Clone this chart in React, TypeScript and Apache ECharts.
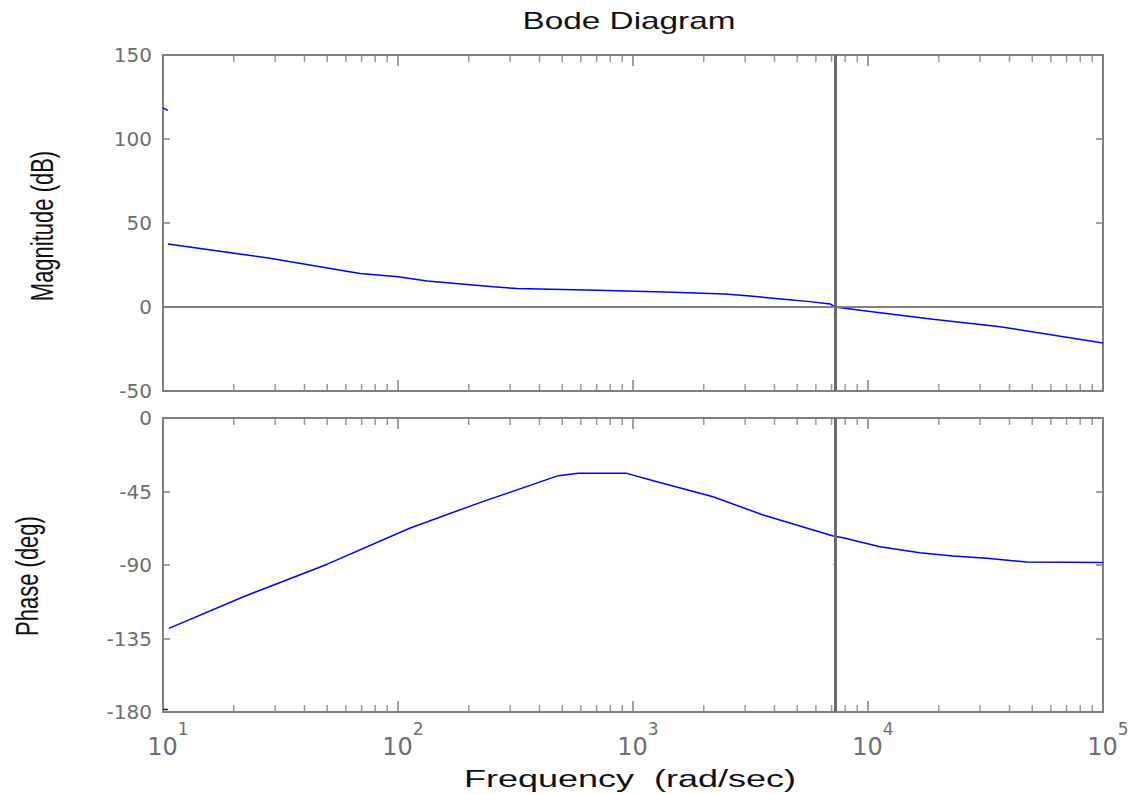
import React, { useEffect, useRef } from "react";
import * as echarts from "echarts";

// Magnitude (dB) vs frequency (rad/sec)
const magFreq = [10.5, 28.5, 68.8, 100, 133, 254, 321, 700, 1370, 2460, 3150, 4500, 5660, 6900, 7240, 10000, 18900, 36500, 100000];
const magDb = [37.5, 29, 20, 18, 15.5, 12, 11, 10, 9, 7.8, 6.5, 4.5, 3.2, 1.8, 0, -2.6, -7.3, -11.7, -21.4];

// Phase (deg) vs frequency (rad/sec)
const phaseFreq = [10.6, 22, 50, 112, 223, 481, 585, 940, 1220, 2190, 3580, 7110, 7840, 11250, 16600, 23000, 32000, 47300, 100000];
const phaseDeg = [-128.8, -109.4, -89.5, -67.5, -51.8, -35.3, -33.9, -33.9, -38.4, -48.2, -59.4, -72.3, -73.3, -78.8, -82.5, -84.5, -85.9, -88.2, -88.4];

// small stray fragments visible in the picture
const magFragA = [[10, 118.5], [10.5, 117]];
const magFragB = [[7240, -21.5], [7240, -23.5]];
const phaseFragA = [[10, -178.5], [10.5, -178.5]];
const phaseFragB = [[7150, -89.5], [7240, -90]];

const seamFreq = 7240;

// axis ticks
const magTicks = [150, 100, 50, 0, -50];
const phaseTicks = [0, -45, -90, -135, -180];
const freqExponents = ["1", "2", "3", "4", "5"];
const freqMin = 10;
const freqMax = 100000;
const minorTickFreqs = [
  20, 30, 40, 50, 60, 70, 80, 90,
  200, 300, 400, 500, 600, 700, 800, 900,
  2000, 3000, 4000, 5000, 6000, 7000, 8000, 9000,
  20000, 30000, 40000, 50000, 60000, 70000, 80000, 90000,
];

const AXIS = "#808080";
const LABEL = "#6e6e6e";
const BLUE = "#0000ff";
const TICKFONT = "DejaVu Sans";

function xAxisDef(gridIndex: number, position: "top" | "bottom", showLabels: boolean) {
  return {
    type: "log",
    logBase: 10,
    gridIndex,
    position,
    min: freqMin,
    max: freqMax,
    axisLine: { show: false, onZero: false },
    axisTick: { show: true, inside: true, length: 11, lineStyle: { color: AXIS, width: 1.5 } },
    splitLine: { show: false },
    axisLabel: showLabels
      ? {
          show: true,
          margin: 8,
          color: LABEL,
          formatter: (v: number) => {
            const idx = Math.round(Math.log10(v)) - 1;
            return `{p|}{b|10}{e|${freqExponents[idx] ?? ""}}`;
          },
          rich: {
            p: { width: 10 },
            b: { fontFamily: TICKFONT, fontSize: 24, lineHeight: 54, color: LABEL },
            e: { fontFamily: TICKFONT, fontSize: 17, lineHeight: 18, verticalAlign: "top", color: LABEL },
          },
        }
      : { show: false },
  };
}

function yAxisDef(gridIndex: number, position: "left" | "right", ticks: number[], showLabels: boolean) {
  return {
    type: "value",
    gridIndex,
    position,
    min: ticks[ticks.length - 1],
    max: ticks[0],
    interval: ticks[0] - ticks[1],
    axisLine: { show: false, onZero: false },
    axisTick: { show: true, inside: true, length: 7, lineStyle: { color: AXIS, width: 1.5 } },
    splitLine: { show: false },
    axisLabel: showLabels
      ? { show: true, margin: 11, color: LABEL, fontFamily: TICKFONT, fontSize: 20 }
      : { show: false },
  };
}

function minorTickSeries(xAxisIndex: number, yAxisIndex: number, yVal: number, dir: number) {
  return {
    type: "scatter",
    xAxisIndex,
    yAxisIndex,
    silent: true,
    clip: false,
    symbol: "rect",
    symbolSize: [1.5, 7],
    symbolOffset: [0, dir * 3.5],
    itemStyle: { color: AXIS },
    data: minorTickFreqs.map((f) => [f, yVal]),
    z: 3,
  };
}

function lineSeries(xAxisIndex: number, yAxisIndex: number, data: number[][], extra: any = {}) {
  return {
    type: "line",
    xAxisIndex,
    yAxisIndex,
    data,
    showSymbol: false,
    symbol: "none",
    lineStyle: { color: BLUE, width: 1.5 },
    z: 4,
    ...extra,
  };
}

const seamMark = {
  silent: true,
  symbol: "none",
  label: { show: false },
  lineStyle: { color: "#6a6a6a", width: 3, type: "solid" },
  data: [{ xAxis: seamFreq }],
};

export default function App() {
  const ref = useRef<HTMLDivElement>(null);
  useEffect(() => {
    const chart = echarts.init(ref.current!, null, { renderer: "svg" });
    const option: any = {
      animation: false,
      backgroundColor: "#ffffff",
      grid: [
        { left: 163, width: 940, top: 55, height: 336, show: true, borderColor: AXIS, borderWidth: 2, backgroundColor: "#fff" },
        { left: 163, width: 940, top: 418, height: 294, show: true, borderColor: AXIS, borderWidth: 2, backgroundColor: "#fff" },
      ],
      xAxis: [
        xAxisDef(0, "bottom", false),
        xAxisDef(0, "top", false),
        xAxisDef(1, "bottom", true),
        xAxisDef(1, "top", false),
      ],
      yAxis: [
        yAxisDef(0, "left", magTicks, true),
        yAxisDef(0, "right", magTicks, false),
        yAxisDef(1, "left", phaseTicks, true),
        yAxisDef(1, "right", phaseTicks, false),
      ],
      series: [
        lineSeries(0, 0, magFreq.map((f, i) => [f, magDb[i]]), {
          markLine: {
            silent: true,
            symbol: "none",
            label: { show: false },
            data: [
              { yAxis: 0, lineStyle: { color: AXIS, width: 2, type: "solid" } },
              { xAxis: seamFreq, lineStyle: { color: "#6a6a6a", width: 3, type: "solid" } },
            ],
          },
        }),
        lineSeries(0, 0, magFragA),
        lineSeries(0, 0, magFragB),
        lineSeries(2, 2, phaseFreq.map((f, i) => [f, phaseDeg[i]]), { markLine: seamMark }),
        lineSeries(2, 2, phaseFragA),
        lineSeries(2, 2, phaseFragB),
        minorTickSeries(0, 0, magTicks[magTicks.length - 1], -1),
        minorTickSeries(0, 0, magTicks[0], 1),
        minorTickSeries(2, 2, phaseTicks[phaseTicks.length - 1], -1),
        minorTickSeries(2, 2, phaseTicks[0], 1),
      ],
      graphic: [
        {
          type: "text",
          x: 629,
          y: 21,
          scaleX: 1.45,
          style: { text: "Bode Diagram", textAlign: "center", textVerticalAlign: "middle", font: "23px 'Liberation Sans'", fill: "#111" },
        },
        {
          type: "text",
          x: 42,
          y: 226,
          rotation: Math.PI / 2,
          scaleY: 1.45,
          style: { text: "Magnitude (dB)", textAlign: "center", textVerticalAlign: "middle", font: "22px 'Liberation Sans'", fill: "#111" },
        },
        {
          type: "text",
          x: 27,
          y: 576,
          rotation: Math.PI / 2,
          scaleY: 1.45,
          style: { text: "Phase (deg)", textAlign: "center", textVerticalAlign: "middle", font: "22px 'Liberation Sans'", fill: "#111" },
        },
        {
          type: "text",
          x: 630,
          y: 778,
          scaleX: 1.5,
          style: { text: "Frequency  (rad/sec)", textAlign: "center", textVerticalAlign: "middle", font: "24px 'Liberation Sans'", fill: "#111" },
        },
      ],
    };
    chart.setOption(option);
    return () => chart.dispose();
  }, []);
  return <div ref={ref} style={{ position: "fixed", left: 0, top: 0, width: 1133, height: 794, background: "#fff" }} />;
}
